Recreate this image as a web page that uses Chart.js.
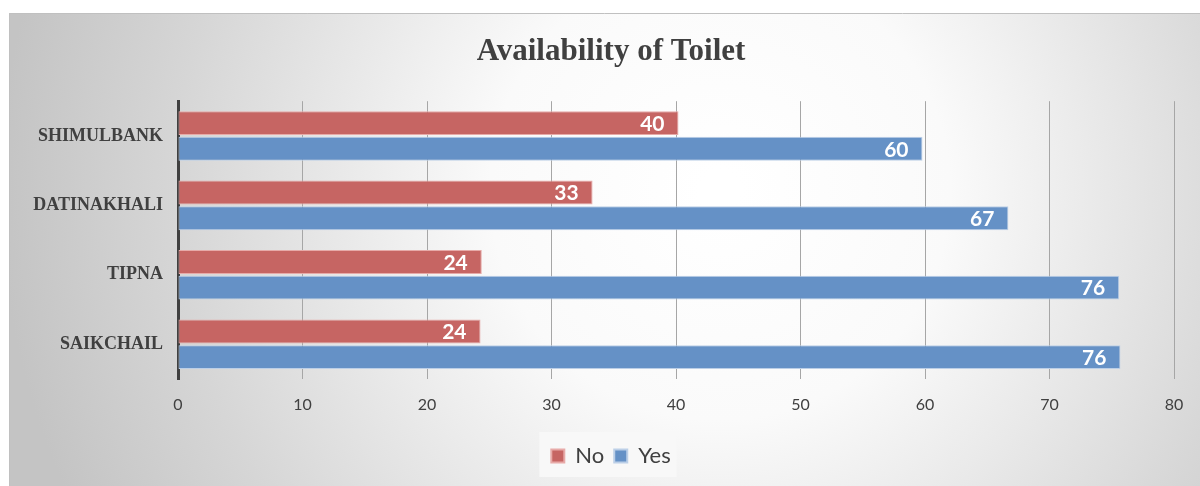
<!DOCTYPE html>
<html>
<head>
<meta charset="utf-8">
<script src="https://cdn.jsdelivr.net/npm/chart.js@4.4.0/dist/chart.umd.min.js"></script>
<style>
  html, body { margin: 0; padding: 0; background: #fff; }
  #wrap { width: 1200px; height: 486px; }
</style>
</head>
<body>
<div id="wrap"><canvas id="toiletChart" width="1200" height="486"></canvas></div>
<script>
// data (percent of households)
const villages = ['SHIMULBANK', 'DATINAKHALI', 'TIPNA', 'SAIKCHAIL'];
const noValues = [40.2, 33.3, 24.4, 24.3];
const yesValues = [59.8, 66.7, 75.6, 75.7];
const xTicks = [0, 10, 20, 30, 40, 50, 60, 70, 80];

// background: white strip on top, radial grey gradient for chart frame
const bgPlugin = {
  id: 'bg',
  afterLayout(chart) {
    // title and legend are centred a bit right of the canvas middle
    [chart.titleBlock, chart.legend].forEach(b => {
      if (b) {
        b.left = 48;
        b.right = chart.width - 26;
        b.width = b.right - b.left;
      }
    });
  },
  beforeDraw(chart) {
    const c = chart.ctx;
    c.save();
    c.fillStyle = '#ffffff';
    c.fillRect(0, 0, chart.width, chart.height);
    const g = c.createRadialGradient(720, 190, 20, 720, 190, 720);
    g.addColorStop(0, '#ffffff');
    g.addColorStop(0.3, '#fafafa');
    g.addColorStop(0.75, '#d6d6d6');
    g.addColorStop(1, '#c4c4c4');
    c.fillStyle = g;
    c.fillRect(9, 13, chart.width - 9, chart.height - 13);
    c.strokeStyle = '#c0c0c0';
    c.lineWidth = 1;
    c.beginPath();
    c.moveTo(9.5, chart.height);
    c.lineTo(9.5, 13.5);
    c.lineTo(chart.width, 13.5);
    c.stroke();
    // legend box
    const lg = chart.legend;
    if (lg && lg.legendHitBoxes && lg.legendHitBoxes.length) {
      const boxes = lg.legendHitBoxes;
      const left = Math.min(...boxes.map(b => b.left)) - 12;
      const right = Math.max(...boxes.map(b => b.left + b.width)) + 6;
      c.fillStyle = 'rgba(248,248,248,0.95)';
      c.fillRect(left, 432, right - left, 45);
    }
    c.restore();
  }
};

// value labels inside bar end
const labelPlugin = {
  id: 'valueLabels',
  afterDatasetsDraw(chart) {
    const c = chart.ctx;
    c.save();
    c.font = 'bold 21px Lato';
    c.fillStyle = '#ffffff';
    c.textAlign = 'right';
    c.textBaseline = 'middle';
    chart.data.datasets.forEach((ds, i) => {
      chart.getDatasetMeta(i).data.forEach((bar, j) => {
        c.fillText(Math.round(ds.data[j]), bar.x - 14, bar.y + 1);
      });
    });
    c.restore();
  }
};

const ctx = document.getElementById('toiletChart').getContext('2d');
const toiletChart = new Chart(ctx, {
  type: 'bar',
  data: {
    labels: villages,
    datasets: [
      {
        label: 'No',
        data: noValues,
        backgroundColor: '#c66563',
        borderColor: '#e7aaa8',
        borderWidth: 1,
        borderSkipped: false,
        barPercentage: 0.93,
        categoryPercentage: 0.74
      },
      {
        label: 'Yes',
        data: yesValues,
        backgroundColor: '#6591c6',
        borderColor: '#bccfe7',
        borderWidth: 1,
        borderSkipped: false,
        barPercentage: 0.93,
        categoryPercentage: 0.74
      }
    ]
  },
  options: {
    indexAxis: 'y',
    responsive: false,
    animation: false,
    devicePixelRatio: 1,
    layout: {
      padding: { top: 13, right: 26, bottom: 9, left: 0 }
    },
    plugins: {
      title: {
        display: true,
        text: 'Availability of Toilet',
        color: '#404040',
        font: { family: 'Liberation Serif', size: 31, weight: 'bold' },
        padding: { top: 20, bottom: 31 }
      },
      legend: {
        display: true,
        position: 'bottom',
        labels: {
          color: '#404040',
          font: { family: 'Lato', size: 22 },
          boxWidth: 13,
          boxHeight: 13,
          padding: 10,
          generateLabels(chart) {
            return chart.data.datasets.map((ds, i) => ({
              text: ds.label,
              fillStyle: ds.backgroundColor,
              strokeStyle: ds.borderColor,
              lineWidth: 2,
              fontColor: '#404040',
              datasetIndex: i
            }));
          }
        }
      },
      tooltip: { enabled: false }
    },
    scales: {
      x: {
        min: 0,
        max: 80,
        afterBuildTicks(scale) {
          scale.ticks = xTicks.map(v => ({ value: v }));
        },
        afterFit(scale) {
          scale.height = 56;
        },
        grid: {
          color: '#a6a6a6',
          lineWidth: 1,
          drawTicks: false
        },
        border: { display: false },
        ticks: {
          color: '#404040',
          font: { family: 'Lato', size: 16 },
          padding: 16
        }
      },
      y: {
        afterFit(scale) {
          scale.width = 178;
        },
        grid: { display: false, drawTicks: false },
        border: { display: true, color: '#404040', width: 3 },
        ticks: {
          color: '#404040',
          font: { family: 'Liberation Serif', size: 18, weight: 'bold' },
          padding: 15
        }
      }
    }
  },
  plugins: [bgPlugin, labelPlugin]
});
</script>
</body>
</html>
